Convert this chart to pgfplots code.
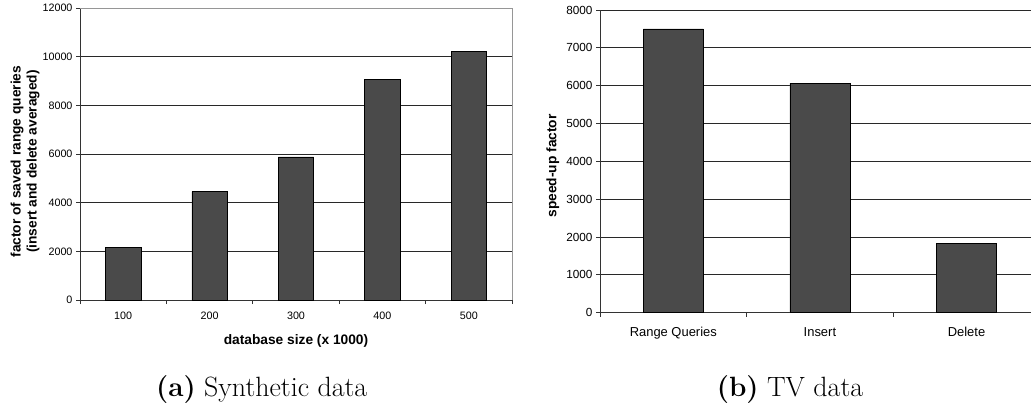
\documentclass[border=0pt]{standalone}
\usepackage{pgfplots}
\pgfplotsset{compat=1.18}
\usepackage{fontspec}
\newfontfamily\arial{Liberation Sans}
\definecolor{barcol}{RGB}{74,74,74}
\definecolor{gridcol}{RGB}{40,40,40}
\definecolor{framecol}{RGB}{150,150,150}
\pgfplotsset{
  common/.style={
    scale only axis,
    anchor=south west,
    ybar,
    bar width=0.41,
    axis x line*=bottom,
    axis y line*=left,
    axis line style={black!80, line width=0.8bp},
    ymin=0,
    ymajorgrids,
    grid style={gridcol, line width=0.8bp},
    tick align=outside,
    major tick length=4bp,
    minor tick length=4bp,
    major x tick style={draw=none},
    minor x tick style={black!80, line width=0.8bp},
    ytick style={black!80, line width=0.8bp},
    /pgf/number format/assume math mode=true,
    /pgf/number format/1000 sep={},
    scaled y ticks=false,
  },
}
\begin{document}
\begin{tikzpicture}[x=1bp,y=1bp]
\useasboundingbox (0,0) rectangle (1031,408);
% (a)
\begin{axis}[common,
  at={(80bp,108bp)}, width=432bp, height=292bp,
  xmin=-0.5, xmax=4.5, ymax=12000,
  ytick={0,2000,...,12000},
  xtick={0,1,2,3,4},
  xticklabels={100,200,300,400,500},
  minor xtick={-0.5,0.5,...,4.5},
  ticklabel style={font=\arial\fontsize{10.8}{12}\selectfont},
  label style={font=\arial\bfseries\fontsize{13.8}{16.2}\selectfont},
  xticklabel style={yshift=-4bp},
  xlabel={database size (x 1000)},
  ylabel={\shortstack{factor of saved range queries\\(insert and delete averaged)}},
  xlabel style={at={(axis description cs:0.5,-0.14)}, anchor=center},
  ylabel style={at={(axis description cs:-0.127,0.474)}, anchor=center},
  clip=false,
]
\addplot[fill=barcol, draw=black, line width=0.6bp] coordinates {
  (0,2160) (1,4450) (2,5880) (3,9080) (4,10200)};
\draw[framecol, line width=0.8bp] (rel axis cs:0,1) -- (rel axis cs:1,1) -- (rel axis cs:1,0);
\end{axis}
% (b)
\begin{axis}[common,
  at={(600bp,95.3bp)}, width=431bp, height=302.7bp,
  xmin=-0.5, xmax=2.44, ymax=8000,
  ytick={0,1000,...,8000},
  xtick={0,1,2},
  xticklabels={Range Queries,Insert,Delete},
  minor xtick={-0.5,0.5,1.5},
  yticklabel style={font=\arial\fontsize{11.8}{13}\selectfont},
  xticklabel style={font=\arial\fontsize{13}{15}\selectfont, yshift=-7bp},
  label style={font=\arial\bfseries\fontsize{13.8}{16}\selectfont},
  ylabel={speed-up factor},
  ylabel style={at={(axis description cs:-0.1095,0.485)}, anchor=center},
]
\addplot[fill=barcol, draw=black, line width=0.6bp] coordinates {
  (0,7500) (1,6060) (2,1830)};
\end{axis}
\node[anchor=base, font=\fontsize{28}{32}\selectfont] at (261.7,11.3) {\textbf{(a)} Synthetic data};
\node[anchor=base, font=\fontsize{28}{32}\selectfont] at (790,11.3) {\textbf{(b)} TV data};
\end{tikzpicture}
\end{document}
